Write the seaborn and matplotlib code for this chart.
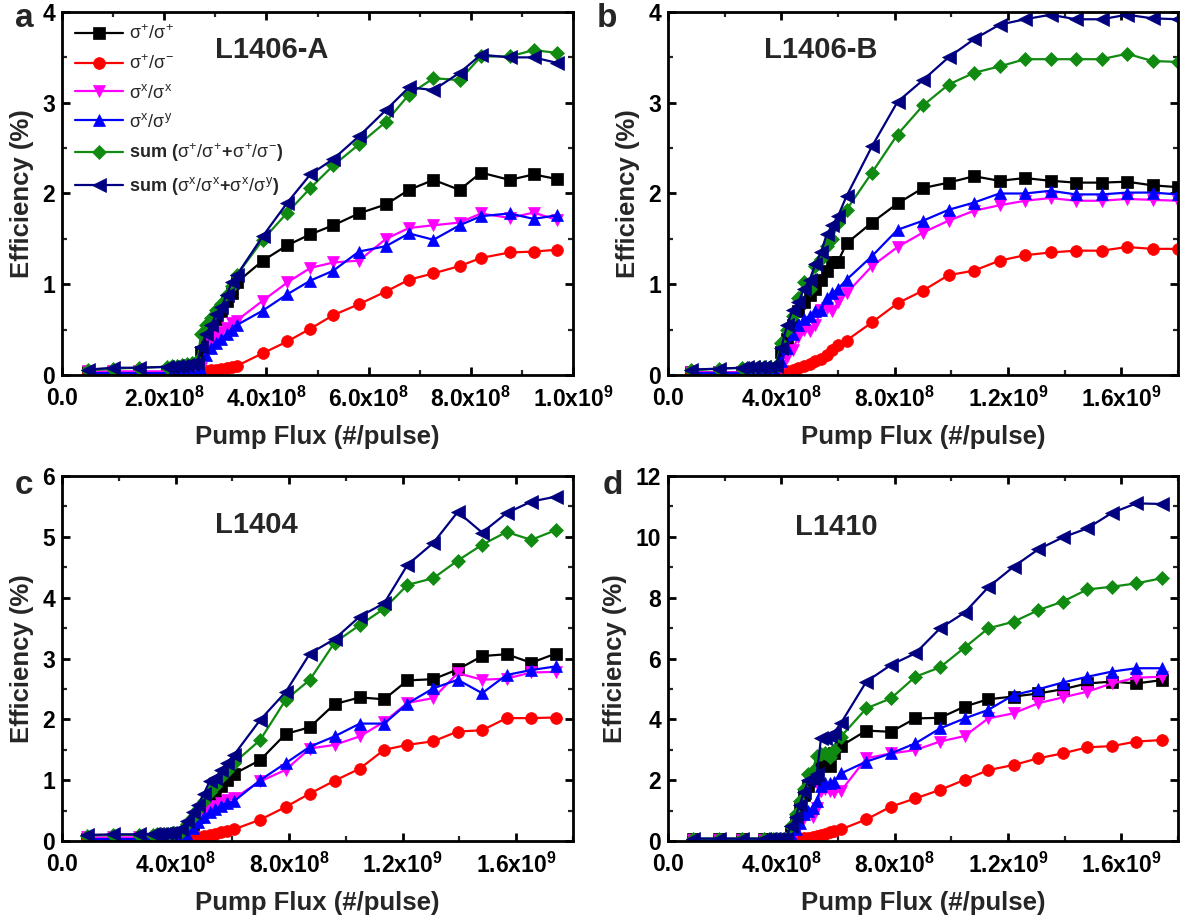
import numpy as np
import pandas as pd
import matplotlib
matplotlib.use("Agg")
import matplotlib.pyplot as plt
import seaborn as sns
from matplotlib.ticker import MultipleLocator, FuncFormatter

sns.set_theme(style="ticks")
plt.rcParams["font.family"] = ["Liberation Sans", "DejaVu Sans"]
plt.rcParams["mathtext.fontset"] = "custom"
plt.rcParams["mathtext.rm"] = "Liberation Sans"
plt.rcParams["mathtext.it"] = "Liberation Sans"
plt.rcParams["mathtext.bf"] = "Liberation Sans:bold"

# ---------------- data (pump flux in units of 1e8 photons/pulse, efficiency in %) ----------------
flux_a = [0.5, 1.0, 1.5, 2.05, 2.15, 2.25, 2.35, 2.45, 2.55, 2.65,
          2.72, 2.82, 2.92, 3.02, 3.12, 3.22, 3.32, 3.42,
          3.93, 4.41, 4.86, 5.31, 5.81, 6.34, 6.79, 7.27, 7.78, 8.20, 8.76, 9.23, 9.68]
pp_a = [0.03, 0.03, 0.03, 0.03, 0.03, 0.03, 0.03, 0.04, 0.04, 0.05,
        0.25, 0.40, 0.52, 0.62, 0.71, 0.82, 0.90, 1.02,
        1.26, 1.43, 1.55, 1.65, 1.78, 1.88, 2.04, 2.15, 2.04, 2.23, 2.15, 2.21, 2.16]
pm_a = [0.01] * 10 + [0.02, 0.04, 0.05, 0.06, 0.07, 0.08, 0.09, 0.10,
        0.24, 0.37, 0.51, 0.66, 0.78, 0.92, 1.05, 1.12, 1.20, 1.29, 1.35, 1.36, 1.38]
xx_a = [0.04, 0.04, 0.04, 0.04, 0.03, 0.03, 0.03, 0.03, 0.03, 0.03,
        0.08, 0.28, 0.35, 0.42, 0.47, 0.52, 0.57, 0.60,
        0.82, 1.02, 1.18, 1.24, 1.26, 1.50, 1.62, 1.65, 1.68, 1.78, 1.73, 1.79, 1.71]
xy_a = [0.02] * 10 + [0.05, 0.22, 0.30, 0.35, 0.40, 0.45, 0.50, 0.55,
        0.71, 0.89, 1.04, 1.15, 1.36, 1.42, 1.56, 1.49, 1.65, 1.75, 1.78, 1.72, 1.76]
sc_a = [0.05, 0.07, 0.08, 0.09, 0.10, 0.10, 0.11, 0.12, 0.13, 0.15,
        0.45, 0.55, 0.63, 0.72, 0.78, 0.88, 0.98, 1.10,
        1.49, 1.79, 2.06, 2.31, 2.54, 2.79, 3.09, 3.27, 3.25, 3.51, 3.51, 3.58, 3.55]
sl_a = [0.06, 0.08, 0.08, 0.09, 0.09, 0.10, 0.10, 0.11, 0.12, 0.13,
        0.31, 0.45, 0.55, 0.67, 0.75, 0.88, 1.02, 1.10,
        1.53, 1.90, 2.21, 2.38, 2.63, 2.92, 3.17, 3.14, 3.33, 3.53, 3.50, 3.50, 3.44]

flux_b = [0.8, 1.8, 2.6, 2.8, 3.0, 3.2, 3.4, 3.6, 3.8,
          4.0, 4.2, 4.4, 4.6, 4.8, 5.0, 5.2, 5.4, 5.6, 5.8, 6.0, 6.3,
          7.2, 8.1, 9.0, 9.9, 10.8, 11.7, 12.6, 13.5, 14.4, 15.3, 16.2, 17.1, 18.0]
pp_b = [0.03] * 9 + [0.25, 0.40, 0.55, 0.70, 0.80, 0.88, 0.95, 1.05, 1.15, 1.25, 1.25, 1.45,
        1.68, 1.89, 2.06, 2.12, 2.19, 2.14, 2.17, 2.14, 2.12, 2.12, 2.13, 2.09, 2.07]
pm_b = [0.01] * 9 + [0.02, 0.04, 0.06, 0.08, 0.10, 0.12, 0.15, 0.18, 0.22, 0.28, 0.33, 0.38,
        0.58, 0.79, 0.93, 1.10, 1.15, 1.26, 1.32, 1.35, 1.37, 1.37, 1.41, 1.39, 1.39]
xx_b = [0.03] * 9 + [0.08, 0.20, 0.28, 0.42, 0.50, 0.48, 0.55, 0.72, 0.74, 0.70, 0.80, 0.90,
        1.20, 1.41, 1.57, 1.70, 1.81, 1.87, 1.92, 1.95, 1.92, 1.92, 1.94, 1.93, 1.92]
xy_b = [0.02] * 9 + [0.15, 0.30, 0.45, 0.55, 0.62, 0.65, 0.70, 0.72, 0.85, 0.90, 0.95, 1.05,
        1.31, 1.60, 1.70, 1.82, 1.90, 2.00, 2.00, 2.03, 1.99, 1.99, 2.01, 2.01, 1.99]
sc_b = [0.05, 0.07, 0.08, 0.08, 0.08, 0.09, 0.09, 0.09, 0.10,
        0.35, 0.50, 0.65, 0.85, 1.02, 0.95, 1.20, 1.28, 1.42, 1.50, 1.68, 1.82,
        2.23, 2.65, 2.97, 3.20, 3.33, 3.40, 3.48, 3.48, 3.48, 3.48, 3.54, 3.46, 3.45]
sl_b = [0.06, 0.07, 0.08, 0.09, 0.09, 0.09, 0.09, 0.09, 0.10,
        0.30, 0.55, 0.72, 0.80, 0.95, 1.05, 1.22, 1.35, 1.55, 1.65, 1.75, 1.97,
        2.52, 3.01, 3.25, 3.50, 3.70, 3.86, 3.92, 3.97, 3.92, 3.92, 3.97, 3.93, 3.92]

flux_c = [0.88, 1.8, 2.7, 3.2, 3.35, 3.5, 3.65, 3.8, 3.95,
          4.2, 4.4, 4.6, 4.8, 5.0, 5.2, 5.4, 5.6, 5.8,
          6.05, 6.98, 7.88, 8.73, 9.6, 10.49, 11.35, 12.17, 13.08, 13.94, 14.8, 15.66, 16.53, 17.39]
pp_c = [0.04] * 9 + [0.05, 0.15, 0.28, 0.40, 0.55, 0.68, 0.80, 0.90, 1.00,
        1.10, 1.33, 1.76, 1.87, 2.25, 2.36, 2.33, 2.64, 2.66, 2.82, 3.04, 3.07, 2.93, 3.08]
pm_c = [0.01] * 9 + [0.00, 0.02, 0.04, 0.06, 0.08, 0.10, 0.12, 0.14, 0.16,
        0.19, 0.35, 0.56, 0.78, 0.99, 1.19, 1.50, 1.58, 1.64, 1.80, 1.82, 2.02, 2.02, 2.03]
xx_c = [0.06, 0.06, 0.06, 0.03, 0.03, 0.03, 0.03, 0.03, 0.03,
        0.02, 0.12, 0.25, 0.35, 0.45, 0.52, 0.58, 0.62, 0.68,
        0.70, 0.98, 1.17, 1.52, 1.58, 1.72, 1.96, 2.27, 2.35, 2.76, 2.65, 2.67, 2.77, 2.78]
xy_c = [0.03] * 9 + [0.02, 0.10, 0.22, 0.32, 0.40, 0.48, 0.52, 0.58, 0.62,
        0.65, 1.00, 1.28, 1.55, 1.72, 1.93, 1.93, 2.26, 2.51, 2.65, 2.43, 2.73, 2.81, 2.87]
sc_c = [0.09, 0.10, 0.10, 0.10, 0.11, 0.11, 0.12, 0.12, 0.13,
        0.15, 0.28, 0.40, 0.52, 0.65, 0.80, 0.90, 1.05, 1.15,
        1.28, 1.66, 2.32, 2.65, 3.26, 3.55, 3.82, 4.21, 4.32, 4.61, 4.87, 5.08, 4.95, 5.11]
sl_c = [0.10, 0.11, 0.11, 0.12, 0.12, 0.12, 0.13, 0.13, 0.14,
        0.20, 0.33, 0.48, 0.60, 0.78, 0.98, 1.03, 1.17, 1.28,
        1.41, 1.99, 2.45, 3.08, 3.32, 3.69, 3.91, 4.54, 4.90, 5.41, 5.07, 5.39, 5.58, 5.66]

flux_d = [0.87, 1.8, 2.6, 3.4, 3.55, 3.7, 3.85, 4.0, 4.15,
          4.35, 4.5, 4.65, 4.8, 4.95, 5.1, 5.25, 5.4, 5.55, 5.7, 5.85,
          6.1, 7.0, 7.87, 8.73, 9.6, 10.47, 11.3, 12.2, 13.07, 13.93, 14.8, 15.67, 16.53, 17.43]
pp_d = [0.05] * 9 + [0.3, 0.7, 1.1, 1.5, 1.8, 2.0, 2.1, 2.6, 2.55, 2.45, 2.9,
        3.12, 3.63, 3.59, 4.03, 4.05, 4.42, 4.66, 4.75, 4.85, 4.99, 5.18, 5.24, 5.18, 5.29]
pm_d = [0.02] * 9 + [0.02, 0.05, 0.07, 0.09, 0.11, 0.14, 0.17, 0.20, 0.24, 0.28, 0.32,
        0.38, 0.71, 1.13, 1.40, 1.68, 2.01, 2.33, 2.50, 2.72, 2.88, 3.08, 3.12, 3.27, 3.32]
xx_d = [0.04] * 9 + [0.1, 0.3, 0.55, 0.75, 0.9, 0.8, 1.1, 1.65, 1.7, 1.65, 1.6,
        1.64, 2.72, 2.88, 2.99, 3.27, 3.45, 4.03, 4.20, 4.53, 4.72, 4.91, 5.18, 5.37, 5.40]
xy_d = [0.03] * 9 + [0.2, 0.4, 0.6, 0.9, 1.0, 1.1, 1.3, 1.8, 1.9, 1.9, 1.95,
        2.22, 2.61, 2.88, 3.21, 3.70, 4.03, 4.31, 4.80, 4.99, 5.21, 5.40, 5.57, 5.68, 5.68]
sc_d = [0.08] * 9 + [0.5, 0.9, 1.3, 1.7, 2.2, 2.3, 2.8, 2.85, 2.9, 2.75, 3.0,
        3.43, 4.36, 4.69, 5.40, 5.71, 6.36, 6.99, 7.21, 7.59, 7.87, 8.27, 8.36, 8.47, 8.64]
sl_d = [0.08] * 9 + [0.5, 0.8, 1.2, 1.6, 2.0, 2.05, 2.2, 3.38, 3.4, 3.45, 3.55,
        3.87, 5.24, 5.79, 6.17, 6.99, 7.51, 8.34, 9.02, 9.59, 9.98, 10.28, 10.79, 11.10, 11.08]

series_labels = [r"$\sigma^{+}/\sigma^{+}$", r"$\sigma^{+}/\sigma^{-}$",
                 r"$\sigma^{x}/\sigma^{x}$", r"$\sigma^{x}/\sigma^{y}$",
                 r"$\mathbf{sum\ (}\sigma^{+}/\sigma^{+}\mathbf{+}\sigma^{+}/\sigma^{-}\mathbf{)}$",
                 r"$\mathbf{sum\ (}\sigma^{x}/\sigma^{x}\mathbf{+}\sigma^{x}/\sigma^{y}\mathbf{)}$"]
panel_titles = ["L1406-A", "L1406-B", "L1404", "L1410"]
panel_letters = ["a", "b", "c", "d"]
x_label = "Pump Flux (#/pulse)"
y_label = "Efficiency (%)"

FLUX_UNIT = 1e8
colors = ["#000000", "#ff0000", "#ff00ff", "#0000ff", "#118a11", "#000080"]
markers = ["s", "o", "v", "^", "D", "<"]
msizes = [8, 8.5, 9, 9, 7.5, 9.5]

panels = [
    (flux_a, [pp_a, pm_a, xx_a, xy_a, sc_a, sl_a]),
    (flux_b, [pp_b, pm_b, xx_b, xy_b, sc_b, sl_b]),
    (flux_c, [pp_c, pm_c, xx_c, xy_c, sc_c, sl_c]),
    (flux_d, [pp_d, pm_d, xx_d, xy_d, sc_d, sl_d]),
]

W, H = 1182, 921
fig = plt.figure(figsize=(W / 100, H / 100), dpi=100)
fig.patch.set_facecolor("white")

# axes boxes in pixels: left, top, right, bottom
boxes = [(62, 12, 573, 375), (668, 12, 1178, 375), (62, 476, 573, 841), (668, 476, 1178, 841)]
xlims = [1.0e9, 1.8e9, 1.8e9, 1.8e9]
xmaj = [2e8, 4e8, 4e8, 4e8]
ylims = [4, 4, 6, 12]
ymaj = [1, 1, 1, 2]
ymin = [0.5, 0.5, 0.5, 1]
title_pos = [(0.41, 0.895), (0.30, 0.895), (0.38, 0.865), (0.33, 0.86)]
letter_pos = [(15, 27), (597, 27), (15, 494), (603, 494)]


def xfmt(v, pos):
    if v < 1e6:
        return "0.0"
    e = int(np.floor(np.log10(v) + 1e-9))
    m = v / 10 ** e
    return "%.1fx10$^{\\mathbf{%d}}$" % (m, e)


for i, (flux, ys) in enumerate(panels):
    l, t, r, b = boxes[i]
    ax = fig.add_axes([l / W, 1 - b / H, (r - l) / W, (b - t) / H])
    ax.set_facecolor("white")
    xs = np.array(flux) * FLUX_UNIT
    for k in range(6):
        df = pd.DataFrame({"flux": xs, "eff": ys[k]})
        sns.lineplot(data=df, x="flux", y="eff", ax=ax, color=colors[k], marker=markers[k],
                     markersize=msizes[k], markeredgecolor=colors[k], markeredgewidth=0.5,
                     linewidth=1.6, estimator=None, sort=False,
                     label=series_labels[k] if i == 0 else None, legend=(i == 0))
    ax.set_xlim(0, xlims[i])
    ax.set_ylim(0, ylims[i])
    ax.xaxis.set_major_locator(MultipleLocator(xmaj[i]))
    ax.xaxis.set_minor_locator(MultipleLocator(xmaj[i] / 2))
    ax.yaxis.set_major_locator(MultipleLocator(ymaj[i]))
    ax.yaxis.set_minor_locator(MultipleLocator(ymin[i]))
    ax.xaxis.set_major_formatter(FuncFormatter(xfmt))
    ax.yaxis.set_major_formatter(FuncFormatter(lambda v, p: "%d" % round(v)))
    for s in ax.spines.values():
        s.set_linewidth(2.0)
        s.set_color("black")
    ax.tick_params(which="major", direction="in", length=6, width=2.0, top=True, right=True,
                   labelsize=16.5, pad=5, colors="black")
    ax.tick_params(axis="x", which="major", pad=8.5)
    ax.tick_params(which="minor", direction="in", length=3.5, width=1.6, top=True, right=True)
    for lab in ax.get_xticklabels() + ax.get_yticklabels():
        lab.set_fontweight("bold")
    ax.set_xlabel(x_label, fontsize=18.5, fontweight="bold", labelpad=9)
    ax.set_ylabel(y_label, fontsize=18.5, fontweight="bold", labelpad=6)
    ax.text(title_pos[i][0], title_pos[i][1], panel_titles[i], transform=ax.transAxes,
            ha="center", va="center", fontsize=21, fontweight="bold")
    fig.text(letter_pos[i][0] / W, 1 - letter_pos[i][1] / H, panel_letters[i],
             ha="left", va="baseline", fontsize=24, fontweight="bold")
    if i == 0:
        ax.legend(loc="upper left", bbox_to_anchor=(0.0, 1.0), frameon=False, fontsize=13,
                  handlelength=2.7, handletextpad=0.3, labelspacing=0.6, borderaxespad=0.3)

fig.savefig("out.png", dpi=100, facecolor="white")
